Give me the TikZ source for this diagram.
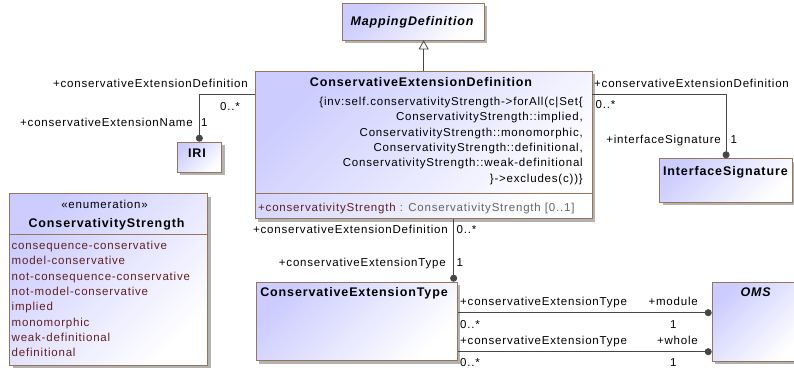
\documentclass[tikz,border=0pt]{standalone}
\usepackage{fontspec}
\setmainfont{Liberation Sans}
\newfontfamily\umlfont[LetterSpace=7]{Liberation Sans}
\usepackage{tikz}
\usetikzlibrary{arrows,arrows.meta,calc,shadows}
\definecolor{umlBorder}{RGB}{150,118,90}
\definecolor{umlFill}{RGB}{204,204,255}
\definecolor{umlLiteral}{RGB}{96,32,32}
\definecolor{umlType}{RGB}{100,100,100}
\definecolor{umlLine}{RGB}{70,70,70}
\tikzset{classFig/.style={x=1pt,y=-1pt,inner sep=0pt,
                    font=\umlfont\fontsize{11.5}{13}\selectfont},
         umlClass/.style={draw=umlBorder,line width=0.8pt,anchor=north west,
                    top color=umlFill,bottom color=white,shading angle=45,
                    drop shadow={shadow xshift=3pt,shadow yshift=-3pt,fill=black!30,opacity=1}},
         className/.style={font=\umlfont\fontsize{12.5}{14}\selectfont\bfseries},
         constraint/.style={align=right,font=\umlfont\fontsize{11.5}{15.3}\selectfont},
         literals/.style={align=left,text=umlLiteral,font=\umlfont\fontsize{11.5}{15.3}\selectfont},
         compartment/.style={draw=umlBorder,line width=0.8pt},
         assoc/.style={draw=umlLine,line width=0.8pt},
         assocEnd/.style={assoc,-{Circle[length=7pt]}},
         generalization/.style={assoc,-{Triangle[open,length=9pt,width=10pt]}}}

\begin{document}
\begin{tikzpicture}[classFig]
		    \useasboundingbox (0,0) rectangle (794,367);
		    %MAPPING
			\node [umlClass, minimum width=142pt, minimum height=36.5pt] (mapDef) at (342,3) {};
			\node [className, anchor=base] (mapDefName) at (412,25) {\itshape MappingDefinition};
			%DEFINITION
			\node [umlClass, minimum width=336.5pt, minimum height=147.3pt] (ceDef) at (255,71) {};
			\node [className, anchor=base] (ceDefName) at (421,86.7) {ConservativeExtensionDefinition};
			\node [constraint, anchor=base east] (ceDefInv) at (583,182) {\{inv:self.conservativityStrength->forAll(c|Set\{\\
				ConservativityStrength::implied,\\
				ConservativityStrength::monomorphic,\\
				ConservativityStrength::definitional,\\
				ConservativityStrength::weak-definitional\\
				\}->excludes(c))\}};
			\draw [compartment] ([yshift=26pt]ceDef.south west) -- ([yshift=26pt]ceDef.south east);
			\node [anchor=base west] (ceDefAttr) at (258,211.5) {\textcolor{umlLiteral}{+conservativityStrength} \textcolor{umlType}{: ConservativityStrength [0..1]}};
			%IRI
			\node [umlClass, minimum width=44.5pt, minimum height=30pt] (iri) at (176.7,141.7) {};
			\node [className, anchor=base] (iriName) at (197,157.3) {IRI};
			%INTERFACE
			\node [umlClass, minimum width=132.7pt, minimum height=43.4pt] (ifSig) at (659.3,158.3) {};
			\node [className, anchor=base] (ifSigName) at (725.4,175) {InterfaceSignature};
			%TYPE
			\node [umlClass, minimum width=200.7pt, minimum height=78.5pt] (ceType) at (256,281.7) {};
			\node [className, anchor=base] (ceTypeName) at (354,296.7) {ConservativeExtensionType};
			%OMS
			\node [umlClass, minimum width=90pt, minimum height=79pt] (oms) at (711.7,281.7) {};
			\node [className, anchor=base] (omsName) at (755.7,296.7) {\itshape OMS};
			%ENUMERATION
			\node [umlClass, minimum width=198pt, minimum height=171.7pt] (consStrength) at (9.3,193.3) {};
			\node [anchor=base] (consStrengthStereo) at (104.5,208.5) {«enumeration»};
			\node [className, anchor=base] (consStrengthName) at (106.5,227.3) {ConservativityStrength};
			\draw [compartment] ([yshift=-41pt]consStrength.north west) -- ([yshift=-41pt]consStrength.north east);
			\node [literals, anchor=base west] (consStrengthLits) at (11.5,356.6) {consequence-conservative\\
				model-conservative\\
				not-consequence-conservative\\
				not-model-conservative\\
				implied\\
				monomorphic\\
				weak-definitional\\
				definitional};

			%CONNECTORS
			\coordinate (moduleStart) at ([yshift=-31pt]ceType.north east);
			\coordinate (wholeStart) at ([yshift=-70pt]ceType.north east);
			\draw [generalization] (ceDef.north) -- (ceDef.north |- mapDef.south);
			\draw [assocEnd] ([yshift=-23.7pt]ceDef.north west) -| (iri.north);
			\draw [assocEnd] ([yshift=-23.7pt]ceDef.north east) -| (ifSig.north);
			\draw [assocEnd] ([xshift=30pt]ceDef.south) -- ([xshift=30pt]ceDef.south |- ceType.north);
			\draw [assocEnd] (moduleStart) -- (moduleStart -| oms.west);
			\draw [assocEnd] (wholeStart) -- (wholeStart -| oms.west);

			%ROLES
			\node [anchor=base east] (iriDefRole) at (248,87.5) {+conservativeExtensionDefinition};
			\node [anchor=base west] (iriDefMult) at (220,110) {0..*};
			\node [anchor=base east] (iriNameRole) at (193,126.5) {+conservativeExtensionName};
			\node [anchor=base west] (iriNameMult) at (201,126.5) {1};
			\node [anchor=base west] (ifDefRole) at (594,87) {+conservativeExtensionDefinition};
			\node [anchor=base west] (ifDefMult) at (595.5,108.3) {0..*};
			\node [anchor=base east] (ifSigRole) at (721,143.3) {+interfaceSignature};
			\node [anchor=base west] (ifSigMult) at (730.5,143.3) {1};
			\node [anchor=base east] (typeDefRole) at (448,233.3) {+conservativeExtensionDefinition};
			\node [anchor=base west] (typeDefMult) at (456.5,233.3) {0..*};
			\node [anchor=base east] (typeRole) at (446,266.7) {+conservativeExtensionType};
			\node [anchor=base west] (typeMult) at (456.5,266.7) {1};
			\node [anchor=base west] (moduleTypeRole) at (460,305) {+conservativeExtensionType};
			\node [anchor=base east] (moduleRole) at (698,305) {+module};
			\node [anchor=base west] (moduleTypeMult) at (460,328.3) {0..*};
			\node [anchor=base west] (moduleMult) at (670,328.3) {1};
			\node [anchor=base west] (wholeTypeRole) at (460,344) {+conservativeExtensionType};
			\node [anchor=base east] (wholeRole) at (698,344) {+whole};
			\node [anchor=base west] (wholeTypeMult) at (460,366) {0..*};
			\node [anchor=base west] (wholeMult) at (670,366) {1};
		\end{tikzpicture}
\end{document}
